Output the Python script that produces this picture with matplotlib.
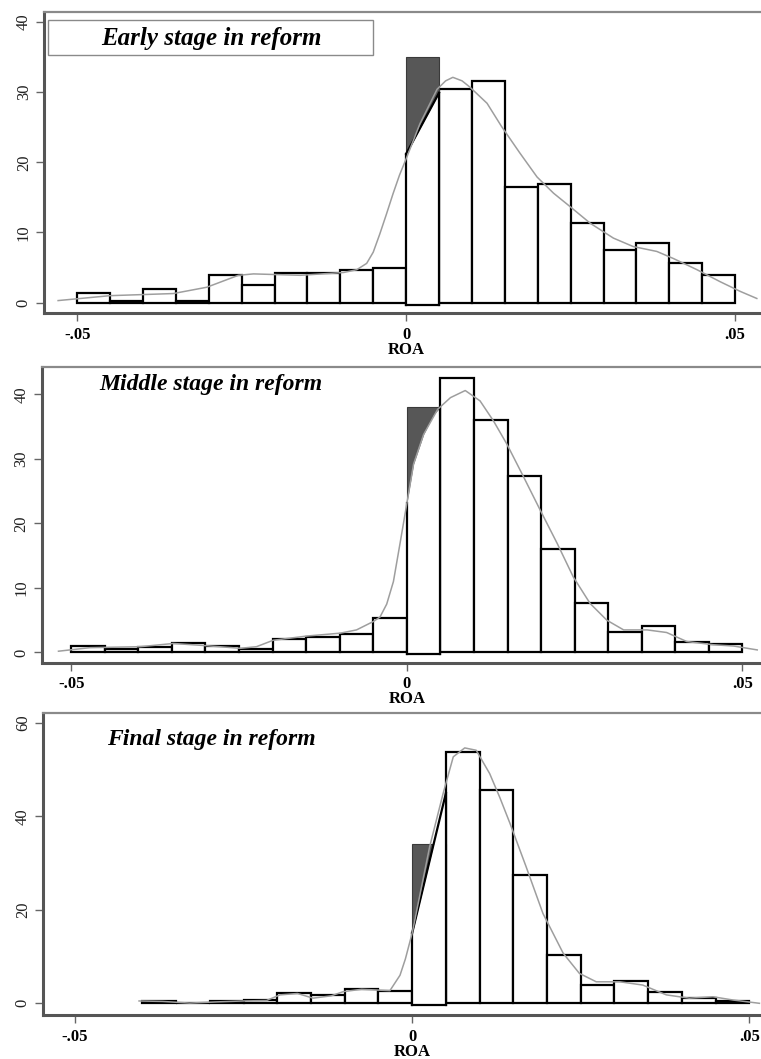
import numpy as np
import matplotlib.pyplot as plt

plt.rcParams['font.family'] = ['Liberation Serif', 'DejaVu Serif']

# ---------------------------------------------------------------- data
bin_w = 0.005
titles = ['Early stage in reform', 'Middle stage in reform', 'Final stage in reform']

early_left = [-0.05, -0.045, -0.04, -0.035, -0.03, -0.025, -0.02, -0.015, -0.01, -0.005,
              0.0, 0.005, 0.01, 0.015, 0.02, 0.025, 0.03, 0.035, 0.04, 0.045]
early_h = [1.4, 0.3, 1.9, 0.3, 3.9, 2.5, 4.2, 4.2, 4.6, 5.0,
           35.0, 30.5, 31.6, 16.5, 16.9, 11.3, 7.5, 8.5, 5.7, 3.9]
early_kde_x = [-0.0529, -0.045, -0.0354, -0.0303, -0.0255, -0.0232, -0.0161, -0.0095, -0.0075,
               -0.006, -0.005, -0.004, -0.003, -0.002, -0.001, 0.0, 0.0021, 0.0047, 0.006,
               0.0071, 0.0085, 0.0097, 0.0123, 0.0145, 0.0173, 0.0199, 0.0224, 0.0249, 0.028,
               0.0315, 0.0345, 0.0381, 0.0406, 0.0442, 0.0477, 0.0508, 0.0533]
early_kde_y = [0.3, 1.0, 1.3, 2.2, 3.9, 4.1, 3.9, 4.3, 4.7,
               5.6, 7.2, 9.8, 12.6, 15.5, 18.2, 20.5, 25.5, 30.4, 31.6,
               32.1, 31.6, 30.7, 28.4, 25.1, 21.3, 17.9, 15.6, 13.7, 11.3,
               9.2, 8.0, 7.3, 6.3, 4.7, 3.0, 1.6, 0.6]
early_wedge_x = [0.0, 0.005]
early_wedge_y = [21.2, 29.9]

middle_left = early_left
middle_h = [1.0, 0.5, 0.8, 1.5, 1.0, 0.5, 2.1, 2.4, 2.8, 5.4,
            38.1, 42.5, 36.0, 27.3, 16.0, 7.6, 3.1, 4.1, 1.6, 1.3]
middle_kde_x = [-0.0519, -0.0472, -0.0397, -0.0348, -0.0298, -0.0248, -0.0224, -0.0199, -0.0149,
                -0.0099, -0.0075, -0.005, -0.004, -0.003, -0.002, -0.001, 0.0, 0.001, 0.0025,
                0.0046, 0.0065, 0.0087, 0.0109, 0.0129, 0.0149, 0.0174, 0.0199, 0.0224, 0.0248,
                0.0273, 0.0298, 0.0323, 0.0358, 0.0387, 0.0417, 0.0457, 0.0487, 0.0522]
middle_kde_y = [0.2, 0.75, 0.9, 1.4, 1.05, 0.65, 0.9, 1.9, 2.55,
                3.0, 3.5, 4.8, 5.5, 7.5, 11.0, 17.0, 23.1, 29.2, 33.8,
                37.7, 39.5, 40.6, 39.0, 35.9, 32.3, 27.2, 22.0, 16.9, 11.7,
                7.6, 5.0, 3.5, 3.5, 3.1, 1.7, 1.2, 1.0, 0.4]
middle_wedge_x = [0.0, 0.001, 0.0025, 0.004, 0.005]
middle_wedge_y = [23.1, 29.2, 33.8, 36.9, 38.0]

final_left = [-0.04, -0.035, -0.03, -0.025, -0.02, -0.015, -0.01, -0.005,
              0.0, 0.005, 0.01, 0.015, 0.02, 0.025, 0.03, 0.035, 0.04, 0.045]
final_h = [0.5, 0.0, 0.4, 0.6, 2.1, 1.8, 3.0, 2.7,
           34.0, 53.8, 45.6, 27.4, 10.3, 3.9, 4.8, 2.5, 1.2, 0.5]
final_kde_x = [-0.0405, -0.037, -0.033, -0.029, -0.025, -0.0216, -0.0196, -0.017, -0.0147, -0.012,
               -0.0102, -0.0075, -0.0033, -0.0018, -0.001, 0.0, 0.0026, 0.0046, 0.0061, 0.0078,
               0.0095, 0.0115, 0.013, 0.0145, 0.0169, 0.0194, 0.0224, 0.0248, 0.0273, 0.0308,
               0.0342, 0.0377, 0.0411, 0.0446, 0.0476, 0.0515]
final_kde_y = [0.5, 0.4, 0.05, 0.3, 0.5, 0.6, 1.8, 2.1, 1.1, 1.6,
               2.5, 3.0, 2.7, 6.0, 9.5, 15.0, 33.5, 44.9, 52.7, 54.6,
               54.1, 49.1, 44.0, 38.5, 29.2, 19.2, 10.7, 6.4, 4.6, 4.6,
               3.9, 1.8, 1.1, 1.4, 0.7, 0.0]
final_wedge_x = [0.0, 0.005]
final_wedge_y = [15.0, 44.9]

yticks = [[0, 10, 20, 30, 40], [0, 10, 20, 30, 40], [0, 20, 40, 60]]
xticks = [-0.05, 0.0, 0.05]
xticklabels = ['-.05', '0', '.05']

panels = [
    (early_left, early_h, early_kde_x, early_kde_y, early_wedge_x, early_wedge_y, True),
    (middle_left, middle_h, middle_kde_x, middle_kde_y, middle_wedge_x, middle_wedge_y, False),
    (final_left, final_h, final_kde_x, final_kde_y, final_wedge_x, final_wedge_y, True),
]

# ---------------------------------------------------------------- layout (pixels)
W, H = 761, 1059
# left, right, top, bottom of each axes box in px
boxes = [(44.3, 768, 11.7, 313), (41.7, 772, 367.3, 662.5), (43.3, 781, 713.3, 1015)]
xlims = [(-0.0550, 0.0550), (-0.0544, 0.0544), (-0.0547, 0.0547)]
ylims = [(-1.47, 41.45), (-1.55, 44.2), (-2.5, 62.0)]
title_pos = [(211, 38), (211, 385), (211, 739)]
title_size = [18, 17, 17]

fig = plt.figure(figsize=(W / 100, H / 100), dpi=100)

for i, (left, h, kx, ky, wx, wy, black_edge) in enumerate(panels):
    l, r, t, b = boxes[i]
    ax = fig.add_axes([l / W, 1 - b / H, (r - l) / W, (b - t) / H])

    heights = np.array(h)
    lefts = np.array(left)
    dark = np.isclose(lefts, 0.0)

    ax.bar(lefts[~dark], heights[~dark], width=bin_w, align='edge',
           color='white', edgecolor='black', linewidth=1.6, zorder=2)
    ax.bar(lefts[dark], heights[dark], width=bin_w, align='edge',
           color='#575757', edgecolor='#3a3a3a', linewidth=0.8, zorder=2)

    # white part of the first positive bin, under the density
    wx = np.array(wx)
    wy = np.array(wy)
    ax.fill_between(wx, -0.3, wy, color='white', linewidth=0, zorder=3)
    ax.plot([wx[0], wx[0]], [-0.3, wy[0]], color='black', lw=1.6, zorder=4)
    ax.plot([wx[-1], wx[-1]], [-0.3, wy[-1]], color='black', lw=1.6, zorder=4)
    ax.plot([wx[0], wx[-1]], [-0.3, -0.3], color='black', lw=1.6, zorder=4)
    if black_edge:
        ax.plot(wx, wy, color='black', lw=1.6, zorder=4)

    ax.plot(kx, ky, color='#9e9e9e', lw=1.1, zorder=5)

    ax.set_xlim(*xlims[i])
    ax.set_ylim(*ylims[i])
    ax.set_xticks(xticks)
    ax.set_xticklabels(xticklabels, fontweight='bold', fontsize=12)
    ax.set_yticks(yticks[i])
    ax.set_yticklabels([str(v) for v in yticks[i]], fontsize=12, rotation=90, va='center')
    ax.tick_params(axis='y', length=6, width=1, color='#666666', pad=3, labelcolor='#222222')
    ax.tick_params(axis='x', length=6, width=1, color='#666666', pad=4)
    ax.set_xlabel('ROA', fontweight='bold', fontsize=12, labelpad=-1)

    for side in ['left', 'bottom']:
        ax.spines[side].set_color('#555555')
        ax.spines[side].set_linewidth(2.2)
    ax.spines['top'].set_color('#8a8a8a')
    ax.spines['top'].set_linewidth(1.6)
    ax.spines['right'].set_visible(False)

    tx, ty = title_pos[i]
    fig.text(tx / W, 1 - ty / H, titles[i], fontsize=title_size[i], fontweight='bold',
             fontstyle='italic', ha='center', va='center')

# box around the first title
fig.patches.append(plt.Rectangle((48.3 / W, 1 - 54.7 / H), (372.7 - 48.3) / W, 34.7 / H,
                                 transform=fig.transFigure, fill=False,
                                 edgecolor='#8a8a8a', linewidth=1.0))

fig.savefig('out.png', dpi=100)
